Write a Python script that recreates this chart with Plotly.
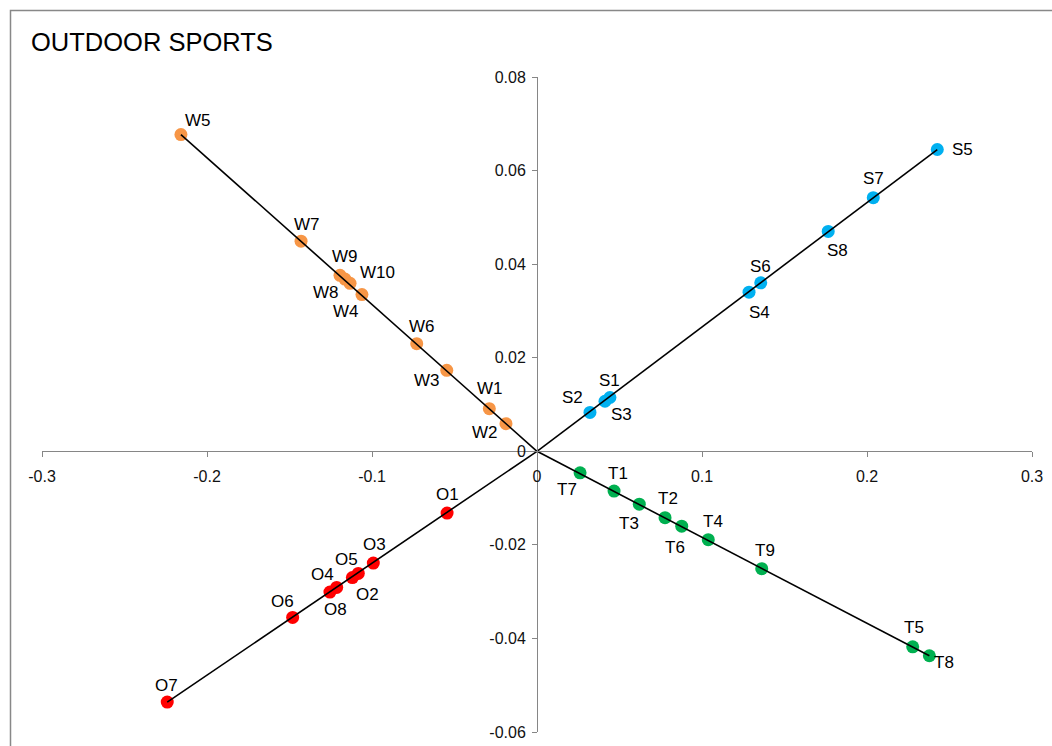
import plotly.graph_objects as go

# ---------------- data ----------------
w_names = ["W1", "W2", "W3", "W4", "W5", "W6", "W7", "W8", "W9", "W10"]
w_x = [-0.0289, -0.0188, -0.0547, -0.1061, -0.2158, -0.0729, -0.1430, -0.1164, -0.1194, -0.1133]
w_y = [0.0091, 0.0059, 0.0173, 0.0335, 0.0677, 0.0230, 0.0449, 0.0368, 0.0376, 0.0359]

s_names = ["S1", "S2", "S3", "S4", "S5", "S6", "S7", "S8"]
s_x = [0.0442, 0.0321, 0.0412, 0.1285, 0.2426, 0.1356, 0.2038, 0.1765]
s_y = [0.0115, 0.0083, 0.0107, 0.0340, 0.0645, 0.0360, 0.0542, 0.0470]

t_names = ["T1", "T2", "T3", "T4", "T5", "T6", "T7", "T8", "T9"]
t_x = [0.0467, 0.0776, 0.0620, 0.1038, 0.2277, 0.0877, 0.0261, 0.2378, 0.1362]
t_y = [-0.0085, -0.0142, -0.0113, -0.0189, -0.0418, -0.0160, -0.0046, -0.0437, -0.0251]

o_names = ["O1", "O2", "O3", "O4", "O5", "O6", "O7", "O8"]
o_x = [-0.0545, -0.1083, -0.0992, -0.1255, -0.1119, -0.1481, -0.2241, -0.1214]
o_y = [-0.0132, -0.0261, -0.0239, -0.0301, -0.0270, -0.0355, -0.0536, -0.0291]

x_tickvals = [-0.3, -0.2, -0.1, 0, 0.1, 0.2, 0.3]
x_ticktext = ["-0.3", "-0.2", "-0.1", "0", "0.1", "0.2", "0.3"]
y_tickvals = [-0.06, -0.04, -0.02, 0, 0.02, 0.04, 0.06, 0.08]
y_ticktext = ["-0.06", "-0.04", "-0.02", "0", "0.02", "0.04", "0.06", "0.08"]

title_text = "OUTDOOR SPORTS"

# ---------------- styles ----------------
# label offsets in pixels (dx right, dy down)
label_offsets = {
    "W1": (1, -20), "W2": (-21, 9), "W3": (-20, 10), "W4": (-16, 17), "W5": (17, -14),
    "W6": (5, -17), "W7": (6, -17), "W8": (-19, 13), "W9": (5, -19), "W10": (27, -11),
    "S1": (0, -17), "S2": (-17, -15), "S3": (17, 13), "S4": (10, 20), "S5": (25, 0),
    "S6": (0, -16), "S7": (0, -19), "S8": (9, 19),
    "T1": (4, -18), "T2": (3, -19), "T3": (-10, 19), "T4": (5, -18), "T5": (1, -19),
    "T6": (-7, 21), "T7": (-13, 17), "T8": (15, 7), "T9": (3, -18),
    "O1": (0, -19), "O2": (9, 21), "O3": (1, -19), "O4": (-7, -18), "O5": (-6, -18),
    "O6": (-10, -16), "O7": (-1, -17), "O8": (-1, 22),
}

groups = [
    (w_names, w_x, w_y, "#F79646"),
    (s_names, s_x, s_y, "#00B0F0"),
    (t_names, t_x, t_y, "#00B050"),
    (o_names, o_x, o_y, "#FF0000"),
]

FONT = "Liberation Sans, Arial, sans-serif"
W, H = 1052, 746
L, R, T, B = 42, 20, 77, 14
pw, ph = W - L - R, H - T - B

fig = go.Figure()

for names, xs, ys, color in groups:
    fig.add_trace(go.Scatter(
        x=xs, y=ys, mode="markers",
        marker=dict(size=13, color=color, line=dict(width=0)),
        hoverinfo="skip", showlegend=False, cliponaxis=False,
    ))

# lines from origin to the farthest point of each group
for names, xs, ys, color in groups:
    d = [abs(a) for a in xs]
    k = d.index(max(d))
    fig.add_trace(go.Scatter(
        x=[0, xs[k]], y=[0, ys[k]], mode="lines",
        line=dict(color="black", width=1.6),
        hoverinfo="skip", showlegend=False,
    ))

annotations = []
for names, xs, ys, color in groups:
    for n, a, b in zip(names, xs, ys):
        dx, dy = label_offsets[n]
        annotations.append(dict(
            x=a, y=b, xref="x", yref="y", text=n, showarrow=False,
            xshift=dx, yshift=-dy, xanchor="center", yanchor="middle",
            font=dict(family=FONT, size=17, color="black"),
        ))

annotations.append(dict(
    x=(29 - L) / pw, y=(H - B - 42) / ph, xref="paper", yref="paper",
    text=title_text, showarrow=False, xanchor="left", yanchor="middle",
    font=dict(family=FONT, size=25.5, color="black"),
))

axis_common = dict(
    showgrid=False, zeroline=False, showline=True, linecolor="#868686", linewidth=1,
    ticks="outside", ticklen=5, tickcolor="#868686", tickwidth=1,
    tickfont=dict(family=FONT, size=16, color="#111"),
    anchor="free", fixedrange=True, automargin=False,
)

fig.update_layout(
    width=W, height=H, autosize=False,
    margin=dict(l=L, r=R, t=T, b=B, pad=0, autoexpand=False),
    paper_bgcolor="white", plot_bgcolor="white",
    xaxis=dict(range=[-0.3, 0.3], tickmode="array", tickvals=x_tickvals, ticktext=x_ticktext,
               position=0.06 / 0.14, ticklabelstandoff=6, **axis_common),
    yaxis=dict(range=[-0.06, 0.08], tickmode="array", tickvals=y_tickvals, ticktext=y_ticktext,
               position=0.5, ticklabelstandoff=3, **axis_common),
    annotations=annotations,
    shapes=[dict(
        type="rect", xref="paper", yref="paper",
        x0=(10.5 - L) / pw, x1=(W + 10 - L) / pw,
        y0=(H - B - (H + 10)) / ph, y1=(H - B - 10.5) / ph,
        line=dict(color="#888888", width=1.5), fillcolor="rgba(0,0,0,0)", layer="below",
    )],
)

fig.write_html(
    "out.html",
    config={"displayModeBar": False, "responsive": False},
    post_script="document.body.style.margin='0px';document.body.style.overflow='hidden';",
)
